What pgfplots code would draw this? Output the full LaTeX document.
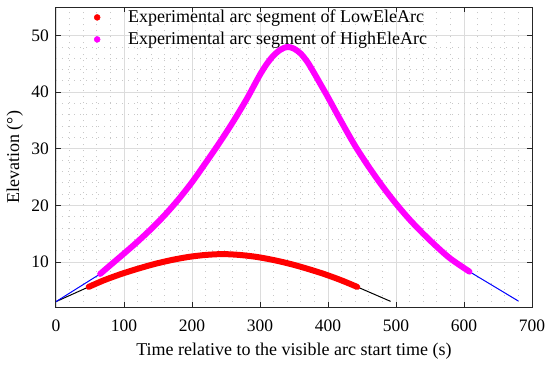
\documentclass[border=0pt]{standalone}
\usepackage{pgfplots}
\pgfplotsset{compat=1.18}
\usepackage{fontspec}
\setmainfont{Liberation Serif}
\definecolor{gridmaj}{HTML}{DCDCDC}
\definecolor{gridmin}{HTML}{C8C8C8}
\definecolor{axcol}{HTML}{262626}
\definecolor{mag}{HTML}{FF00FF}
\definecolor{rd}{HTML}{FF0000}
\definecolor{bl}{HTML}{0000FF}
\begin{document}
\begin{tikzpicture}
\begin{axis}[
  scale only axis, width=476pt, height=300pt,
  xmin=0, xmax=700, ymin=2, ymax=55,
  xtick={0,100,...,700}, ytick={10,20,...,50},
  minor x tick num=4, minor y tick num=4,
  minor tick length=0pt, major tick length=5pt,
  tick align=inside,
  xtick pos=both, ytick pos=both,
  grid=both,
  major grid style={gridmaj, line width=0.9pt},
  minor grid style={gridmin, line width=0.8pt, dash pattern=on 0.8pt off 5.2pt},
  axis line style={axcol, line width=1pt},
  every tick/.style={axcol, line width=1pt},
  /pgf/number format/assume math mode=true,
  tick label style={font=\fontsize{17.5}{21}\selectfont, inner sep=0pt},
  x tick label style={yshift=-12.5pt},
  y tick label style={xshift=-7pt},
  xlabel={Time relative to the visible arc start time (s)},
  ylabel={Elevation (°)},
  label style={font=\fontsize{18}{21}\selectfont, inner sep=0pt},
  x label style={at={(axis description cs:0.5,-0.1623)}, anchor=base},
  y label style={at={(axis description cs:-0.0777,0.5)}, anchor=base},
  legend style={at={(axis description cs:0.0756,0.992)}, anchor=north west,
    draw=none, fill=none, inner sep=0pt, row sep=5pt,
    font=\fontsize{18}{21}\selectfont,
    nodes={inner sep=0pt, text height=13pt, text depth=4pt}},
  legend cell align=left,
]
\addlegendimage{legend image code/.code={\path[draw=none,fill=none] (0pt,-6pt) rectangle (36pt,6pt); \fill[rd] (5pt,1pt) circle (3pt);}}
\addlegendentry{Experimental arc segment of LowEleArc}
\addlegendimage{legend image code/.code={\path[draw=none,fill=none] (0pt,-6pt) rectangle (36pt,6pt); \fill[mag] (5pt,1pt) circle (3pt);}}
\addlegendentry{Experimental arc segment of HighEleArc}

% LowEleArc full arc (thin black)
\addplot[black, line width=1pt, forget plot] coordinates {(0,3.0) (48,5.6)};
\addplot[black, line width=1pt, forget plot] coordinates {(443,5.6) (492,3.05)};
% HighEleArc full arc (thin blue)
\addplot[bl, line width=1pt, forget plot] coordinates {(0,3.0) (65,7.9)};
\addplot[bl, line width=1pt, forget plot] coordinates {(608,8.3) (680,3.1)};

% Experimental segment LowEleArc
\addplot[rd, line width=6pt, line cap=round, smooth, forget plot] coordinates {
(48,5.6) (70,6.75) (95,7.85) (120,8.8) (145,9.65) (170,10.35) (195,10.9)
(220,11.25) (245,11.4) (270,11.25) (295,10.9) (320,10.35) (345,9.65)
(370,8.8) (395,7.85) (420,6.75) (443,5.6)};
% Experimental segment HighEleArc
\addplot[mag, line width=6pt, line cap=round, smooth, forget plot] coordinates {
(65,7.9) (80,9.45) (100,11.5) (120,13.6) (140,15.85) (160,18.3) (180,21.05)
(200,24.1) (220,27.5) (240,31.0) (260,34.7) (280,38.7) (290,40.9) (300,43.1)
(310,45.0) (320,46.5) (330,47.5) (340,48.0) (350,47.7) (360,46.8) (370,45.3)
(380,43.3) (390,41.2) (400,39.1) (420,34.7) (440,30.5) (460,26.8) (480,23.4)
(500,20.3) (520,17.5) (540,15.0) (560,12.7) (580,10.6) (608,8.3)};
\end{axis}
\pgfresetboundingbox
\path ([shift={(-56pt,-58.7pt)}]current axis.south west) rectangle ([shift={(18pt,7.3pt)}]current axis.north east);
\end{tikzpicture}
\end{document}
